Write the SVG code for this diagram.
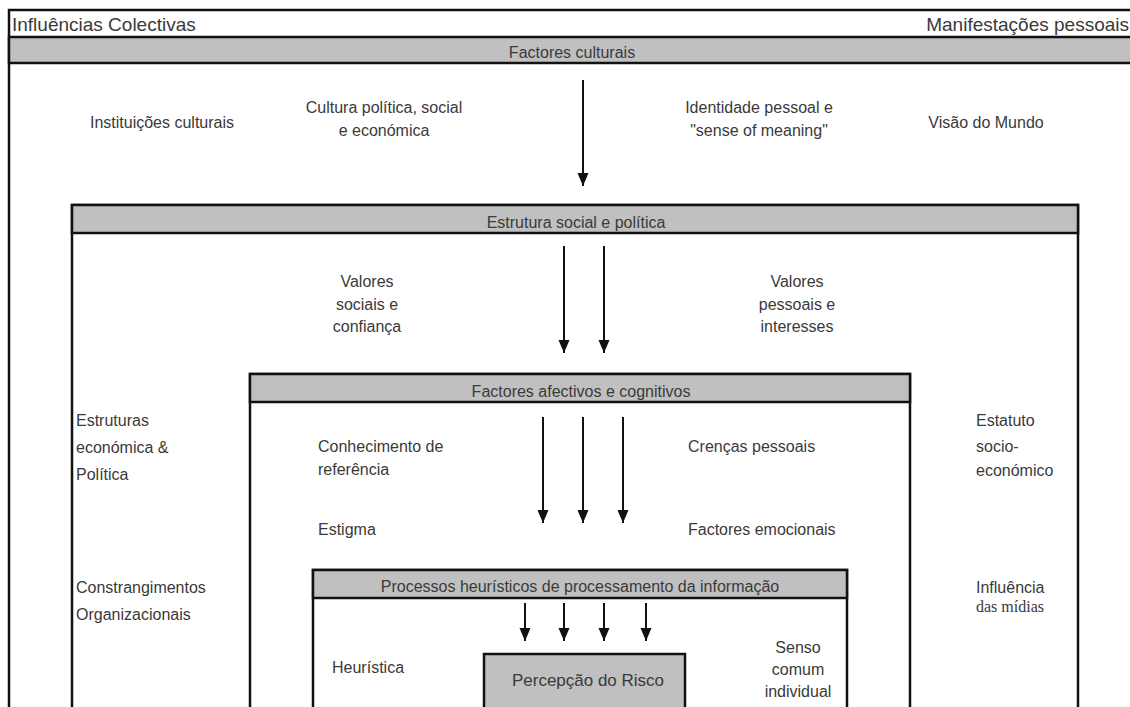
<svg xmlns="http://www.w3.org/2000/svg" width="1130" height="707" viewBox="0 0 1130 707">
<defs>
<marker id="ah" markerWidth="14" markerHeight="12" refX="13" refY="5.5" orient="auto" markerUnits="userSpaceOnUse">
<path d="M0,0 L13,5.5 L0,11 Z" fill="#111"/>
</marker>
<style>
text{font-family:"Liberation Sans",Arial,sans-serif;font-size:16px;fill:#3a3a3a}
.c{text-anchor:middle}
.r{text-anchor:end}
.box{fill:#fff;stroke:#111;stroke-width:2.5}
.bar{fill:#c0c0c0;stroke:#111;stroke-width:2.5}
.ar{stroke:#111;stroke-width:2;fill:none;marker-end:url(#ah)}
.serif{font-family:"Liberation Serif","Times New Roman",serif;font-size:16px}
.title{font-size:19px}
</style>
</defs>
<rect width="1130" height="707" fill="#fff"/>
<g id="frame">
<rect class="box" x="9" y="10" width="1125" height="705"/>
<text class="title" x="12" y="31">Influências Colectivas</text>
<text class="title r" x="1129" y="31">Manifestações pessoais</text>
</g>
<g id="factores-culturais">
<rect class="bar" x="9" y="37" width="1125" height="26"/>
<text class="c" x="572" y="58">Factores culturais</text>
<text class="c" x="162" y="128">Instituições culturais</text>
<text class="c" x="384" y="113">Cultura política, social</text>
<text class="c" x="384" y="136">e económica</text>
<text class="c" x="759" y="113">Identidade pessoal e</text>
<text class="c" x="759" y="136">"sense of meaning"</text>
<text class="c" x="986" y="128">Visão do Mundo</text>
</g>
<g id="estrutura-social">
<rect class="box" x="72" y="205" width="1006" height="520"/>
<rect class="bar" x="72" y="205" width="1006" height="28"/>
<text class="c" x="576" y="228">Estrutura social e política</text>
<text class="c" x="367" y="287">Valores</text>
<text class="c" x="367" y="310">sociais e</text>
<text class="c" x="367" y="332">confiança</text>
<text class="c" x="797" y="287">Valores</text>
<text class="c" x="797" y="310">pessoais e</text>
<text class="c" x="797" y="332">interesses</text>
<text x="76" y="426">Estruturas</text>
<text x="76" y="453">económica &amp;</text>
<text x="76" y="480">Política</text>
<text x="76" y="593">Constrangimentos</text>
<text x="76" y="620">Organizacionais</text>
<text x="976" y="426">Estatuto</text>
<text x="976" y="452">socio-</text>
<text x="976" y="476">económico</text>
<text x="976" y="593">Influência</text>
<text class="serif" x="976" y="612">das mídias</text>
</g>
<g id="factores-afectivos">
<rect class="box" x="250" y="374" width="660" height="350"/>
<rect class="bar" x="250" y="374" width="660" height="28"/>
<text class="c" x="581" y="397">Factores afectivos e cognitivos</text>
<text x="318" y="452">Conhecimento de</text>
<text x="318" y="475">referência</text>
<text x="688" y="452">Crenças pessoais</text>
<text x="318" y="535">Estigma</text>
<text x="688" y="535">Factores emocionais</text>
</g>
<g id="processos-heuristicos">
<rect class="box" x="313" y="570" width="534" height="150"/>
<rect class="bar" x="313" y="570" width="534" height="28"/>
<text class="c" x="580" y="592">Processos heurísticos de processamento da informação</text>
<text x="332" y="673">Heurística</text>
<text class="c" x="798" y="653">Senso</text>
<text class="c" x="798" y="675">comum</text>
<text class="c" x="798" y="697">individual</text>
</g>
<g id="percepcao-risco">
<rect class="bar" x="484" y="654" width="201" height="70"/>
<text class="c" x="588" y="686" style="font-size:17px">Percepção do Risco</text>
</g>
<g id="connectors">
<line class="ar" x1="583" y1="80" x2="583" y2="186"/>
<line class="ar" x1="564" y1="246" x2="564" y2="353"/>
<line class="ar" x1="604" y1="246" x2="604" y2="353"/>
<line class="ar" x1="543" y1="417" x2="543" y2="523"/>
<line class="ar" x1="583" y1="417" x2="583" y2="523"/>
<line class="ar" x1="623" y1="417" x2="623" y2="523"/>
<line class="ar" x1="525" y1="603" x2="525" y2="641"/>
<line class="ar" x1="564" y1="603" x2="564" y2="641"/>
<line class="ar" x1="604" y1="603" x2="604" y2="641"/>
<line class="ar" x1="646" y1="603" x2="646" y2="641"/>
</g>
</svg>
